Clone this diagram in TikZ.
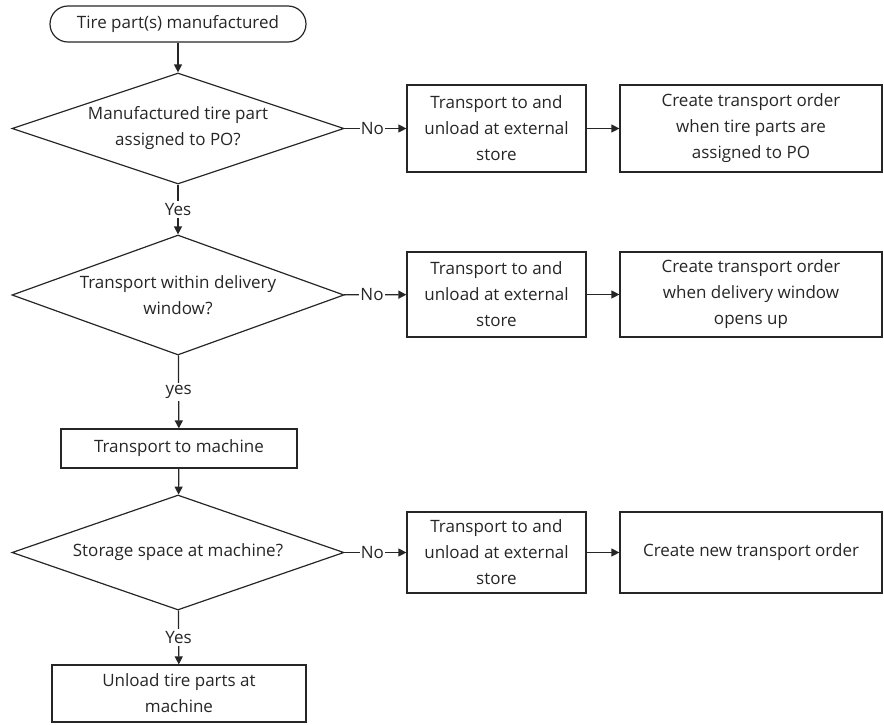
\documentclass[tikz,border=0pt]{standalone}
\usepackage{fontspec}
\setmainfont{Open Sans}
\usetikzlibrary{shapes.geometric,arrows.meta}
\begin{document}
\begin{tikzpicture}[x=1pt,y=-1pt,
  every node/.style={font=\fontsize{17}{26}\selectfont, text=black!85, align=center, inner sep=0pt},
  line/.style={draw=black!85, line width=1.2pt},
  flow/.style={line, -{Triangle[length=8pt,width=8pt]}},
  terminal/.style={line, rounded corners=18pt, minimum width=256pt, minimum height=36pt},
  decision/.style={line, diamond, aspect=2.8, minimum width=332pt},
  process/.style={line, rectangle},
  lbl/.style={fill=white, inner xsep=1pt, inner ysep=2pt}
]
\useasboundingbox (0,0) rectangle (884,724);

% main column
\node[terminal] (start) at (178,24) {Tire part(s) manufactured};
\node[decision, minimum height=111pt] (d1) at (178,128.5) {Manufactured tire part\\assigned to PO?};
\node[decision, minimum height=120pt] (d2) at (178,295) {Transport within delivery\\window?};
\node[process, minimum width=236pt, minimum height=39pt] (tm) at (179,448.5) {Transport to machine};
\node[decision, minimum height=115pt] (d3) at (178,552.5) {Storage space at machine?};
\node[process, minimum width=254pt, minimum height=57pt] (ul) at (179,693.5) {Unload tire parts at\\machine};

% external store branches
\node[process, minimum width=179pt, minimum height=87pt] (e1) at (496.5,128.5) {Transport to and\\unload at external\\store};
\node[process, minimum width=262pt, minimum height=87pt] (o1) at (751,128.5) {Create transport order\\when tire parts are\\assigned to PO};
\node[process, minimum width=179pt, minimum height=85pt] (e2) at (496.5,294.5) {Transport to and\\unload at external\\store};
\node[process, minimum width=262pt, minimum height=85pt] (o2) at (751,294.5) {Create transport order\\when delivery window\\opens up};
\node[process, minimum width=179pt, minimum height=81pt] (e3) at (496.5,552.5) {Transport to and\\unload at external\\store};
\node[process, minimum width=262pt, minimum height=81pt] (o3) at (751,552.5) {Create new transport order};

% connectors
\draw[flow] (start) -- (d1);
\draw[flow] (d1) -- node[lbl] {Yes} (d2);
\draw[flow] (d2) -- node[lbl] {yes} (tm);
\draw[flow] (tm) -- (d3);
\draw[flow] (d3) -- node[lbl] {Yes} (ul);

\draw[flow] (d1) -- node[lbl, pos=0.45] {No} (e1);
\draw[flow] (d2) -- node[lbl, pos=0.45] {No} (e2);
\draw[flow] (d3) -- node[lbl, pos=0.45] {No} (e3);

\draw[flow] (e1) -- (o1);
\draw[flow] (e2) -- (o2);
\draw[flow] (e3) -- (o3);
\end{tikzpicture}
\end{document}
